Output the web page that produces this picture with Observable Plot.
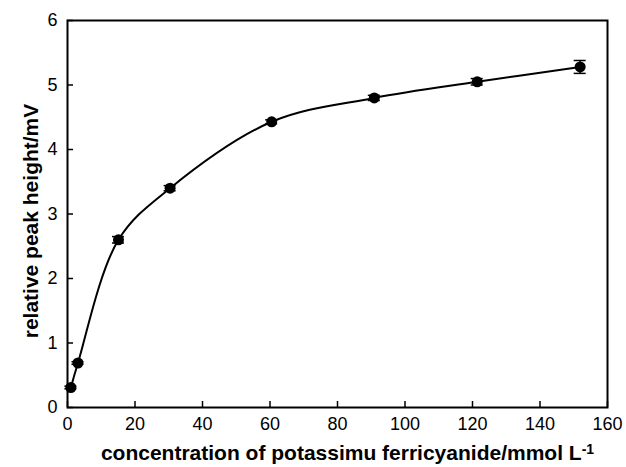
<!DOCTYPE html>
<html>
<head>
<meta charset="utf-8">
<script src="https://cdn.jsdelivr.net/npm/d3@7"></script>
<script src="https://cdn.jsdelivr.net/npm/@observablehq/plot@0.6"></script>
<style>
  html, body { margin: 0; padding: 0; background: #fff; }
  svg { display: block; }
</style>
</head>
<body>
<div id="chart"></div>
<script>
// concentration of potassium ferricyanide (mmol/L)
const concentration = [1, 3.1, 15.1, 30.4, 60.5, 90.9, 121.4, 151.9];
// relative peak height (mV)
const peakHeight = [0.31, 0.69, 2.60, 3.40, 4.43, 4.80, 5.05, 5.28];
// error (± mV)
const errorBar = [0.02, 0.02, 0.05, 0.04, 0.03, 0.04, 0.05, 0.10];
const xTicks = [0, 20, 40, 60, 80, 100, 120, 140, 160];
const yTicks = [0, 1, 2, 3, 4, 5, 6];
const xLabel = "concentration of potassimu ferricyanide/mmol L";
const xLabelSup = "-1";
const yLabel = "relative peak height/mV";

const data = concentration.map((c, i) => ({x: c, y: peakHeight[i], e: errorBar[i]}));

const chart = Plot.plot({
  width: 626,
  height: 467,
  marginLeft: 67,
  marginRight: 19,
  marginTop: 20,
  marginBottom: 60,
  style: {fontFamily: "'Liberation Sans', Arial, sans-serif", fontSize: "18px", color: "#000", background: "#fff"},
  x: {domain: [0, 160], ticks: xTicks, label: null},
  y: {domain: [0, 6], ticks: yTicks, label: null},
  marks: [
    Plot.frame({stroke: "#000", strokeWidth: 2}),
    Plot.axisX({ticks: xTicks, tickFormat: d3.format("d"), tickSize: -6, tickPadding: 16, strokeWidth: 1.5, label: null, fontSize: 18}),
    Plot.axisY({ticks: yTicks, tickFormat: d3.format("d"), tickSize: -6, tickPadding: 16, strokeWidth: 1.5, label: null, fontSize: 18}),
    Plot.line(data, {x: "x", y: "y", curve: "catmull-rom", stroke: "#000", strokeWidth: 2}),
    Plot.ruleX(data, {x: "x", y1: d => d.y - d.e, y2: d => d.y + d.e, stroke: "#000", strokeWidth: 1.5}),
    Plot.ruleY(data, {y: d => d.y + d.e, x1: "x", x2: "x", insetLeft: -6, insetRight: -6, stroke: "#000", strokeWidth: 1.5}),
    Plot.ruleY(data, {y: d => d.y - d.e, x1: "x", x2: "x", insetLeft: -6, insetRight: -6, stroke: "#000", strokeWidth: 1.5}),
    Plot.dot(data, {x: "x", y: "y", r: 5.5, fill: "#000", stroke: "none"}),
    Plot.text([xLabel], {frameAnchor: "bottom", text: d => d, textAnchor: "middle", dy: 46, dx: 10, fontWeight: "bold", fontSize: 21, lineAnchor: "middle", className: "xlab"}),
    Plot.text([yLabel], {frameAnchor: "left", text: d => d, textAnchor: "middle", dx: -36, dy: 7, rotate: -90, fontWeight: "bold", fontSize: 21, lineAnchor: "middle"})
  ]
});
document.getElementById("chart").appendChild(chart);

// add the superscript to the x label
d3.select(chart).selectAll("g.xlab text").each(function() {
  const t = d3.select(this);
  t.append("tspan").attr("dy", "-0.45em").attr("font-size", "14px").text(xLabelSup);
});
</script>
</body>
</html>
